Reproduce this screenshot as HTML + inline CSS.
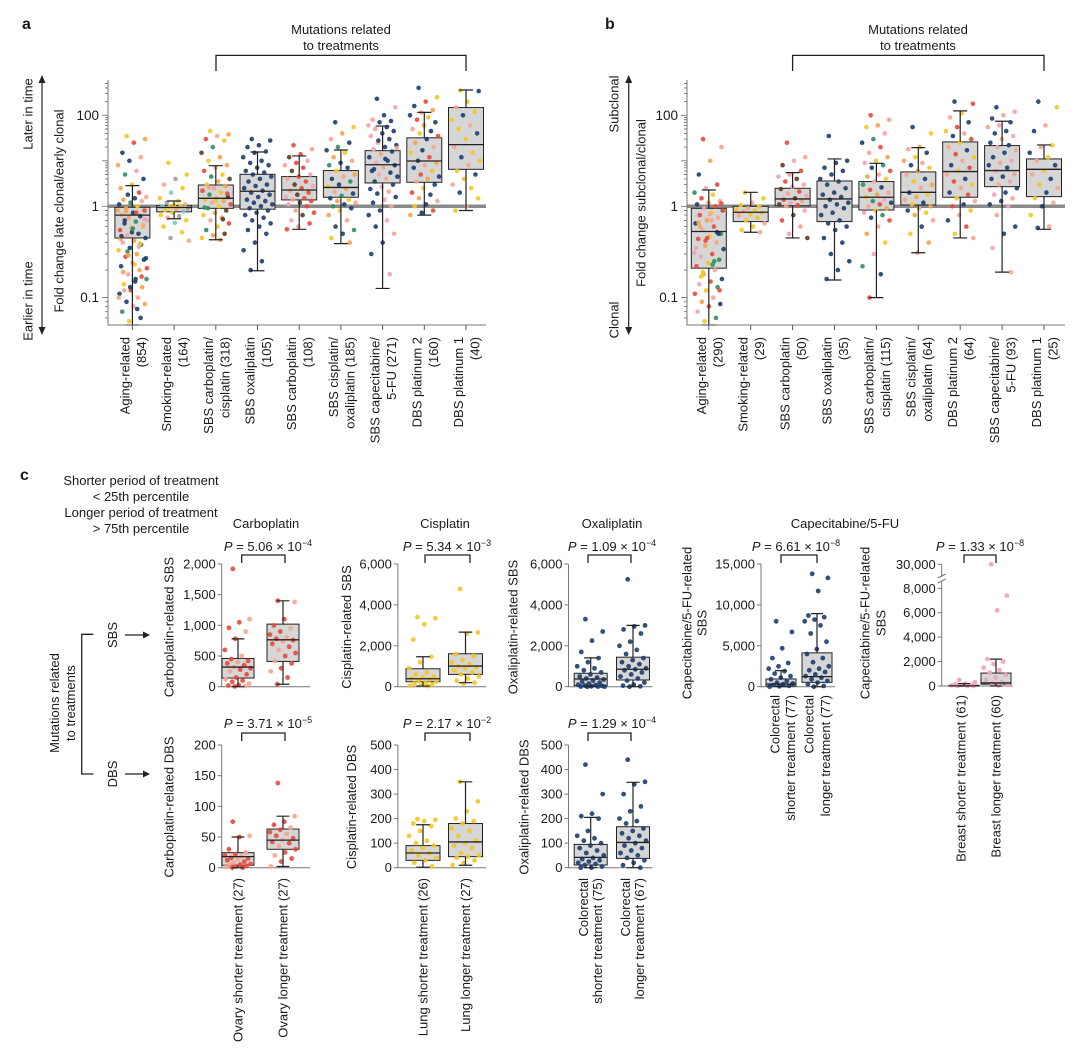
<!DOCTYPE html>
<html><head><meta charset="utf-8"><title>Clonality and treatment mutations</title>
<style>
html,body{margin:0;padding:0;background:#fff;}
svg{display:block;font-family:"Liberation Sans",Arial,sans-serif;}
text{fill:#1a1a1a;}
</style></head>
<body>
<svg id="fig" width="1080" height="1061" viewBox="0 0 1080 1061" xmlns="http://www.w3.org/2000/svg">
<rect x="0" y="0" width="1080" height="1061" fill="#fff"/>
<g font-size="13">
<text x="22" y="29" font-size="16" font-weight="bold">a</text>
<path d="M216,71 V55.4 H466 V71" fill="none" stroke="#222" stroke-width="1.3"/>
<text x="341" y="34" text-anchor="middle">Mutations related</text>
<text x="341" y="50" text-anchor="middle">to treatments</text>
<text transform="translate(32.5,114) rotate(-90)" text-anchor="middle">Later in time</text>
<text transform="translate(32.5,301) rotate(-90)" text-anchor="middle">Earlier in time</text>
<text transform="translate(63.5,211) rotate(-90)" text-anchor="middle">Fold change late clonal/early clonal</text>
<line x1="42" y1="82" x2="42" y2="328" stroke="#222" stroke-width="1.2"/>
<path d="M42,75 L38.5,83 L45.5,83 Z M42,335 L38.5,327 L45.5,327 Z" fill="#222"/>
</g>
<g font-size="13">
<text x="605" y="29" font-size="16" font-weight="bold">b</text>
<path d="M792.6,71 V55.4 H1044 V71" fill="none" stroke="#222" stroke-width="1.3"/>
<text x="918" y="34" text-anchor="middle">Mutations related</text>
<text x="918" y="50" text-anchor="middle">to treatments</text>
<text transform="translate(618.5,104) rotate(-90)" text-anchor="middle">Subclonal</text>
<text transform="translate(618.5,320) rotate(-90)" text-anchor="middle">Clonal</text>
<text transform="translate(645.5,203) rotate(-90)" text-anchor="middle">Fold change subclonal/clonal</text>
<line x1="628.7" y1="82" x2="628.7" y2="328" stroke="#222" stroke-width="1.2"/>
<path d="M628.7,75 L625.2,83 L632.2,83 Z M628.7,335 L625.2,327 L632.2,327 Z" fill="#222"/>
</g>
<g font-size="13">
<text x="20" y="480" font-size="16" font-weight="bold">c</text>
<text x="141" y="485" text-anchor="middle">Shorter period of treatment</text>
<text x="141" y="501" text-anchor="middle">&lt; 25th percentile</text>
<text x="141" y="517" text-anchor="middle">Longer period of treatment</text>
<text x="141" y="533" text-anchor="middle">&gt; 75th percentile</text>
<path d="M93.3,634.3 H81.7 V774 H93.3" fill="none" stroke="#222" stroke-width="1.3"/>
<text transform="translate(59,703) rotate(-90)" text-anchor="middle">Mutations related</text>
<text transform="translate(75,703) rotate(-90)" text-anchor="middle">to treatments</text>
<text transform="translate(117,635) rotate(-90)" text-anchor="middle">SBS</text>
<text transform="translate(117,774) rotate(-90)" text-anchor="middle">DBS</text>
<line x1="125" y1="635" x2="144" y2="635" stroke="#222" stroke-width="1.2"/>
<path d="M150,635 L143,631.5 L143,638.5 Z" fill="#222"/>
<line x1="125" y1="774" x2="144" y2="774" stroke="#222" stroke-width="1.2"/>
<path d="M150,774 L143,770.5 L143,777.5 Z" fill="#222"/>

<text x="266" y="528" text-anchor="middle">Carboplatin</text>
<text x="445" y="528" text-anchor="middle">Cisplatin</text>
<text x="612" y="528" text-anchor="middle">Oxaliplatin</text>
<text x="845" y="528" text-anchor="middle">Capecitabine/5-FU</text>

<text x="268" y="551" text-anchor="middle"><tspan font-style="italic">P</tspan> = 5.06 × 10<tspan dy="-5" font-size="9">−4</tspan></text>
<text x="447" y="551" text-anchor="middle"><tspan font-style="italic">P</tspan> = 5.34 × 10<tspan dy="-5" font-size="9">−3</tspan></text>
<text x="612" y="551" text-anchor="middle"><tspan font-style="italic">P</tspan> = 1.09 × 10<tspan dy="-5" font-size="9">−4</tspan></text>
<text x="796" y="551" text-anchor="middle"><tspan font-style="italic">P</tspan> = 6.61 × 10<tspan dy="-5" font-size="9">−8</tspan></text>
<text x="980" y="551" text-anchor="middle"><tspan font-style="italic">P</tspan> = 1.33 × 10<tspan dy="-5" font-size="9">−8</tspan></text>
<text x="268" y="728" text-anchor="middle"><tspan font-style="italic">P</tspan> = 3.71 × 10<tspan dy="-5" font-size="9">−5</tspan></text>
<text x="447" y="728" text-anchor="middle"><tspan font-style="italic">P</tspan> = 2.17 × 10<tspan dy="-5" font-size="9">−2</tspan></text>
<text x="612" y="728" text-anchor="middle"><tspan font-style="italic">P</tspan> = 1.29 × 10<tspan dy="-5" font-size="9">−4</tspan></text>

<text transform="translate(173.5,627) rotate(-90)" text-anchor="middle">Carboplatin-related SBS</text>
<text transform="translate(173.5,807) rotate(-90)" text-anchor="middle">Carboplatin-related DBS</text>
<text transform="translate(351,627) rotate(-90)" text-anchor="middle">Cisplatin-related SBS</text>
<text transform="translate(356,807) rotate(-90)" text-anchor="middle">Cisplatin-related DBS</text>
<text transform="translate(517.5,627) rotate(-90)" text-anchor="middle">Oxaliplatin-related SBS</text>
<text transform="translate(528.5,807) rotate(-90)" text-anchor="middle">Oxaliplatin-related DBS</text>
<text transform="translate(691.5,623) rotate(-90)" text-anchor="middle">Capecitabine/5-FU-related</text>
<text transform="translate(706.5,623) rotate(-90)" text-anchor="middle">SBS</text>
<text transform="translate(869.5,623) rotate(-90)" text-anchor="middle">Capecitabine/5-FU-related</text>
<text transform="translate(885.5,623) rotate(-90)" text-anchor="middle">SBS</text>

<text transform="translate(242.5,878) rotate(-90)" text-anchor="end">Ovary shorter treatment (27)</text>
<text transform="translate(287.5,878) rotate(-90)" text-anchor="end">Ovary longer treatment (27)</text>
<text transform="translate(427.5,878) rotate(-90)" text-anchor="end">Lung shorter treatment (26)</text>
<text transform="translate(470,878) rotate(-90)" text-anchor="end">Lung longer treatment (27)</text>
<text transform="translate(588,878) rotate(-90)" text-anchor="end">Colorectal</text>
<text transform="translate(602,878) rotate(-90)" text-anchor="end">shorter treatment (75)</text>
<text transform="translate(630,878) rotate(-90)" text-anchor="end">Colorectal</text>
<text transform="translate(644,878) rotate(-90)" text-anchor="end">longer treatment (67)</text>
<text transform="translate(779.5,695) rotate(-90)" text-anchor="end">Colorectal</text>
<text transform="translate(795,695) rotate(-90)" text-anchor="end">shorter treatment (77)</text>
<text transform="translate(813.5,695) rotate(-90)" text-anchor="end">Colorectal</text>
<text transform="translate(830,695) rotate(-90)" text-anchor="end">longer treatment (77)</text>
<text transform="translate(965.5,695) rotate(-90)" text-anchor="end">Breast shorter treatment (61)</text>
<text transform="translate(1000.5,695) rotate(-90)" text-anchor="end">Breast longer treatment (60)</text>
</g>
</svg>
<script>
const catsA = [["Aging-related","(854)"],["Smoking-related","(164)"],["SBS carboplatin/","cisplatin (318)"],["SBS oxaliplatin","(105)"],["SBS carboplatin","(108)"],["SBS cisplatin/","oxaliplatin (185)"],["SBS capecitabine/","5-FU (271)"],["DBS platinum 2","(160)"],["DBS platinum 1","(40)"]];
const aLo  = [0.05,0.73,0.43,0.197,0.56,0.39,0.126,0.80,0.90];
const aQ1  = [0.45,0.87,0.95,0.93,1.38,1.58,3.26,3.37,6.5];
const aMed = [0.80,0.97,1.5,2.14,2.28,2.6,8.2,9.9,22.7];
const aQ3  = [0.975,1.03,2.94,5.05,4.5,6.1,16.7,32,148];
const aHi  = [2.85,1.31,7.8,15.6,12.8,17.3,58,116,360];
const aPts = [
 [35,30,25,15,12,10,8,6,5,4,3,2.5,2,1.8,1.6,1.5,1.4,1.3,1.2,1.1,1,0.95,0.9,0.85,0.8,0.78,0.75,0.7,0.68,0.65,0.6,0.58,0.55,0.5,0.48,0.45,0.42,0.4,0.38,0.35,0.33,0.3,0.28,0.26,0.24,0.22,0.2,0.18,0.16,0.15,0.14,0.13,0.12,0.11,0.1,0.09,0.085,0.08,0.07,0.06,0.055,0.9,0.85,0.7,0.62,0.52,0.44,0.36,0.32,0.27,0.23,0.19,0.17,0.13,0.1,0.075,0.88,0.72,0.57,0.47,0.39,0.29,0.21,0.16,0.12],
 [9,5,4,3,2.5,2,1.5,1.3,1.2,1.1,1.05,1,1,0.98,0.95,0.93,0.9,0.88,0.85,0.8,0.78,0.75,0.7,0.66,0.6,0.52,0.45,0.42],
 [45,38,35,30,28,20,15,12,10,8,7,6,5,4.5,4,3.5,3,2.8,2.5,2.2,2,1.8,1.6,1.5,1.4,1.3,1.2,1.1,1,0.95,0.9,0.85,0.8,0.75,0.7,0.65,0.6,0.55,0.5,0.48,0.45,0.43,2.6,1.9,1.35,0.97,0.72],
 [30,28,22,20,16,15,12,10,9,8,7,6,5.5,5,4.5,4,3.5,3,2.8,2.5,2.2,2,1.8,1.6,1.4,1.3,1.2,1.1,1,0.95,0.9,0.85,0.8,0.75,0.7,0.65,0.6,0.55,0.5,0.4,0.33,0.25,0.2],
 [22,18,14,12,10,9,8,7,6,5,4.5,4,3.5,3,2.8,2.5,2.2,2,1.8,1.6,1.5,1.4,1.3,1.2,1.1,1,0.9,0.85,0.8,0.7,0.65,0.6,0.56],
 [70,55,40,30,25,20,17,15,12,10,9,8,7,6,5,4.5,4,3.5,3,2.7,2.4,2.1,1.9,1.7,1.5,1.4,1.3,1.2,1.1,1,0.95,0.9,0.8,0.7,0.6,0.55,0.5,0.45,0.4],
 [230,150,100,80,75,70,60,55,50,45,40,35,30,25,22,20,18,16,14,12,10,9,8,7,6,5.5,5,4.5,4,3.5,3,2.7,2.4,2.1,1.9,1.6,1.4,1.2,1,0.9,0.8,0.7,0.6,0.5,0.4,0.3,0.18,28,19,11,6.5],
 [400,250,200,160,130,115,100,90,80,70,60,50,45,40,35,30,25,20,17,15,12,10,9,8,7,6,5,4.5,4,3.5,3,2.5,2,1.8,1.5,1.3,1.1,1,0.9,0.85,0.8],
 [350,340,200,150,120,100,80,60,50,40,30,20,15,12,10,8,6,5,4,3,2.5,2,1.5,1,0.9]
];
const catsB = [["Aging-related","(290)"],["Smoking-related","(29)"],["SBS carboplatin","(50)"],["SBS oxaliplatin","(35)"],["SBS carboplatin/","cisplatin (115)"],["SBS cisplatin/","oxaliplatin (64)"],["DBS platinum 2","(64)"],["SBS capecitabine/","5-FU (93)"],["DBS platinum 1","(25)"]];
const bLo  = [0.05,0.52,0.45,0.156,0.10,0.31,0.45,0.19,0.56];
const bQ1  = [0.21,0.68,1.03,0.68,0.91,1.07,1.58,2.7,1.63];
const bMed = [0.53,0.86,1.45,1.45,1.58,2.03,5.8,6.1,6.5];
const bQ3  = [0.95,1.0,2.49,3.6,3.5,5.7,26,21.6,11];
const bHi  = [2.28,2.03,5.5,11,8.8,19.5,125,74,22.3];
const bPts = [
 [30,20,10,5,3,2.5,2,1.8,1.5,1.3,1.2,1.1,1,0.95,0.9,0.85,0.8,0.75,0.7,0.65,0.6,0.55,0.5,0.47,0.44,0.4,0.37,0.34,0.3,0.28,0.26,0.24,0.22,0.2,0.18,0.16,0.15,0.14,0.13,0.12,0.11,0.1,0.09,0.085,0.08,0.07,0.06,0.055,0.9,0.7,0.6,0.5,0.45,0.35,0.25,0.19,1.15,0.82,0.66,0.52,0.42,0.31,0.23,0.17,0.12],
 [2,1.5,1.2,1.05,1,0.95,0.92,0.9,0.88,0.85,0.82,0.8,0.75,0.7,0.65,0.6,0.55,0.52],
 [25,12,10,8,6,5,4.5,4,3.5,3,2.7,2.4,2.1,1.9,1.7,1.5,1.4,1.3,1.2,1.1,1.05,1,0.9,0.8,0.7,0.6,0.5,0.45],
 [35,10,9,7,6,5,4,3.5,3,2.5,2,1.8,1.6,1.4,1.2,1.1,1,0.95,0.85,0.8,0.7,0.65,0.6,0.55,0.45,0.4,0.3,0.25,0.2,0.16],
 [100,80,60,55,40,30,25,20,15,12,10,9,8,7,6,5,4.5,4,3.5,3,2.6,2.3,2,1.8,1.6,1.4,1.3,1.2,1.1,1,0.95,0.9,0.85,0.8,0.75,0.7,0.6,0.5,0.4,0.3,0.22,0.18,0.1],
 [55,40,20,18,15,12,10,9,8,7,6,5,4,3.5,3,2.5,2,1.8,1.6,1.4,1.2,1.1,1,0.95,0.9,0.85,0.8,0.7,0.6,0.5,0.4,0.31],
 [200,180,110,90,70,55,45,40,35,30,25,20,17,14,12,10,8,7,6,5,4,3.5,3,2.5,2,1.8,1.5,1.3,1.1,1,0.9,0.8,0.7,0.6,0.5,0.45],
 [150,120,100,85,70,60,55,45,40,35,30,25,22,20,17,15,12,10,9,8,7,6,5,4.5,4,3.5,3,2.5,2,1.8,1.5,1.3,1.1,1,0.8,0.6,0.5,0.35,0.19],
 [200,150,60,45,22,20,15,12,10,8,6,5,4,3,2.5,2,1.5,1.2,1,0.8,0.6,0.58]
];
const logTickValues = [100,1,0.1];
const logTickLabels = ["100","1","0.1"];
const cCarboSbsStats = [[0,141,320,460,780],[40,412,764,1020,1400]];
const cCarboSbsShort = [1920,1100,1050,960,900,780,600,500,450,420,400,380,350,320,300,280,250,200,150,120,100,80,50,30,20,10,5];
const cCarboSbsLong  = [1400,1380,1100,1000,950,900,850,800,780,760,740,700,650,600,550,500,420,380,300,250,150,40];
const cCisSbsStats = [[30,244,390,878,1463],[195,602,1008,1610,2667]];
const cCisSbsShort = [3400,3350,3050,2300,1460,1200,900,700,600,500,450,400,350,300,250,200,150,100,80,50,30];
const cCisSbsLong  = [4780,2650,2600,1600,1500,1300,1200,1100,1000,950,900,800,700,600,500,400,300,200,150];
const cCarboDbsStats = [[0,4,18,24.5,50],[2,30,45,63,84]];
const cCarboDbsShort = [75,52,50,30,25,22,20,18,16,15,14,12,10,8,6,5,4,3,2,1,0,0];
const cCarboDbsLong  = [138,84,75,70,65,62,58,55,52,48,45,42,40,35,30,25,20,15,10,2];
const cCisDbsStats = [[2,30,60,90,175],[10,45,105,180,350]];
const cCisDbsShort = [198,195,190,180,170,150,130,110,100,90,80,70,60,50,40,30,20,5];
const cCisDbsLong  = [350,270,230,200,190,180,160,150,130,110,100,90,80,60,50,45,40,30,20,10];
const cOxaliSbsStats = [[0,50,377,656,1410],[0,328,852,1443,3000]];
const cOxaliSbsShort = [3300,2700,2250,1700,1400,1200,1000,900,800,700,600,500,450,400,350,300,250,200,150,100,80,60,40,20,10,5,0,0];
const cOxaliSbsLong  = [5250,3000,2950,2800,2600,2200,2000,1800,1600,1400,1300,1200,1100,1000,900,850,800,700,600,500,400,300,200,100,50,20,0];
const cOxaliDbsStats = [[0,11,42,95,205],[0,38,103,167,348]];
const cOxaliDbsShort = [420,300,220,210,200,150,130,120,110,100,90,80,70,60,50,40,35,30,25,20,15,10,5,0,0];
const cOxaliDbsLong  = [440,350,340,300,250,230,200,190,180,160,150,140,130,120,110,100,90,80,70,60,50,40,30,20,10,0];
const cColoStats = [[0,82,330,943,1967],[0,533,1230,4140,8935]];
const cColoShort = [8000,6700,4700,3500,2900,2500,2200,1900,1600,1300,1100,900,700,500,400,300,200,100,50,0];
const cColoLong  = [13800,13300,11700,8700,8500,8200,8000,7500,6500,5500,4600,4000,3500,3000,2500,2200,2000,1800,1500,1300,1100,900,700,500,300,100,0];
const cBreastStats = [[0,0,10,60,200],[0,150,250,1060,2200]];
const cBreastShort = [500,300,200,150,100,80,50,20,10,0];
const cBreastLong  = [30000,7400,6200,2200,2000,1800,1500,1300,1100,900,700,500,300,200,100,50];
const tCarboSbs = [0,500,1000,1500,2000];  const lCarboSbs = ["0","500","1,000","1,500","2,000"];
const tCisSbs = [0,2000,4000,6000];        const lCisSbs = ["0","2,000","4,000","6,000"];
const tCarboDbs = [0,50,100,150,200];      const lCarboDbs = ["0","50","100","150","200"];
const tDbs500 = [0,100,200,300,400,500];   const lDbs500 = ["0","100","200","300","400","500"];
const tColo = [0,5000,10000,15000];        const lColo = ["0","5,000","10,000","15,000"];
const tBreast = [0,2000,4000,6000,8000,30000]; const lBreast = ["0","2,000","4,000","6,000","8,000","30,000"];

const NS = 'http://www.w3.org/2000/svg';
const svg = document.getElementById('fig');
function mk(tag, attrs, parent){ const e = document.createElementNS(NS, tag); for (const k in attrs) e.setAttribute(k, attrs[k]); (parent||svg).appendChild(e); return e; }
const C = {navy:'#1d3c6e',yellow:'#f3c623',orange:'#f4a24a',red:'#e8483b',salmon:'#f5a48f',pink:'#f2a3b8',green:'#2f8f5b',gray:'#a0a0a0',brown:'#5a3b22',teal:'#7fc9c0'};

function drawGroup(g, cx, w, st, pts, yf, pal, yb, r){
  const c = v => Math.min(yf(v), yb);
  const box = mk('rect',{x:cx-w/2,y:c(st[3]),width:w,height:Math.max(0.8,c(st[1])-c(st[3])),fill:'#d6d6d6',stroke:'#222','stroke-width':1},g);
  
  
  pts.forEach((v,i)=>{
    const jx = cx + (((i*0.6180339+0.31)%1)-0.5)*w*0.85;
    const d = mk('circle',{cx:jx.toFixed(1),cy:c(v).toFixed(1),r:r||2.3,fill:pal[i%pal.length],'fill-opacity':0.9},g);
    
    
  });
  const cw = w*0.4;
  const wh = mk('path',{d:`M${cx},${c(st[3])}V${c(st[4])}M${cx-cw/2},${c(st[4])}H${cx+cw/2}M${cx},${c(st[1])}V${c(st[0])}M${cx-cw/2},${c(st[0])}H${cx+cw/2}`,stroke:'#222','stroke-width':1.2,fill:'none'},g);
  
  
  const md = mk('line',{x1:cx-w/2,x2:cx+w/2,y1:c(st[2]),y2:c(st[2]),stroke:'#222','stroke-width':1.3},g);
  
  
}

function yLog(v){ const l = Math.log10(v); return l >= 0 ? 206.3 - l*45.5 : 206.3 - l*91.3; }
const palA = [[C.yellow,C.orange,C.red,C.navy,C.salmon,C.navy,C.orange,C.pink,C.green,C.navy],[C.yellow,C.yellow,C.gray,C.salmon,C.yellow,C.teal],[C.yellow,C.orange,C.salmon,C.red,C.yellow,C.green,C.brown,C.orange],[C.navy],[C.red,C.salmon,C.red,C.brown,C.pink],[C.navy,C.yellow,C.orange,C.salmon,C.navy,C.green],[C.navy,C.pink,C.navy,C.salmon,C.navy],[C.navy,C.yellow,C.red,C.navy,C.orange,C.salmon],[C.yellow,C.navy,C.yellow,C.salmon]];
const palB = [[C.red,C.salmon,C.orange,C.navy,C.red,C.pink,C.green,C.yellow],[C.yellow,C.yellow,C.salmon],[C.red,C.salmon,C.pink,C.brown],[C.navy],[C.red,C.salmon,C.orange,C.yellow,C.pink,C.green,C.navy],[C.navy,C.yellow,C.orange,C.salmon],[C.navy,C.red,C.yellow,C.salmon],[C.navy,C.pink,C.salmon,C.navy],[C.navy,C.yellow,C.salmon]];

function drawLogPanel(name, axX, rightX, x0, step, cats, lo, q1, med, q3, hi, pts, pal){
  const g = mk('g',{});
  
  
  const top = 80, bot = 325;
  const ref = mk('line',{x1:axX,x2:rightX,y1:yLog(1),y2:yLog(1),stroke:'#8a8a8a','stroke-width':3.5},g);
  
  
  cats.forEach((cl,i)=>{
    const cx = x0 + i*step;
    drawGroup(g, cx, 35, [lo[i],q1[i],med[i],q3[i],hi[i]], pts[i], yLog, pal[i], bot, 2.3);
    const tk = mk('line',{x1:cx,x2:cx,y1:bot,y2:bot+5,stroke:'#555','stroke-width':1},g);
    
    
    const t1 = mk('text',{transform:`translate(${cx-3},337) rotate(-90)`,'text-anchor':'end','font-size':13},g);
    t1.textContent = cl[0];
    
    
    const t2 = mk('text',{transform:`translate(${cx+13.5},337) rotate(-90)`,'text-anchor':'end','font-size':13},g);
    t2.textContent = cl[1];
    
    
  });
  const ax = mk('path',{d:`M${axX},${top}V${bot}H${rightX}`,fill:'none',stroke:'#777','stroke-width':1},g);
  
  
  let md = '';
  for (let e=-2; e<=2; e++) for (let m=1; m<10; m++){ const v = m*Math.pow(10,e); const y = yLog(v); if (y<top||y>bot) continue; const len = (m===1)?6:3; md += `M${axX-len},${y.toFixed(1)}H${axX}`; }
  const mt = mk('path',{d:md,stroke:'#777','stroke-width':0.9},g);
  
  
  logTickValues.forEach((v,i)=>{
    const t = mk('text',{x:axX-9,y:yLog(v)+4.5,'text-anchor':'end','font-size':13.5},g);
    t.textContent = logTickLabels[i];
    
    
  });
}
drawLogPanel('panel-a', 108, 486, 132.4, 41.7, catsA, aLo, aQ1, aMed, aQ3, aHi, aPts, palA);
drawLogPanel('panel-b', 687, 1065, 708.8, 41.9, catsB, bLo, bQ1, bMed, bQ3, bHi, bPts, palB);

function linY(y0, yTop, vmax){ return v => y0 - v/vmax*(y0-yTop); }
function breastY(v){ return v <= 8000 ? 686 - v*(686-588.3)/8000 : 580 - (v-8000)/22000*15.7; }
const cPanels = [
 {name:'carbo-sbs', ax:221.7, right:310, y0:686.7, yTop:564, yf:linY(686.7,564,2000), ticks:tCarboSbs, labels:lCarboSbs, cx:[238,283], w:32, stats:cCarboSbsStats, pts:[cCarboSbsShort,cCarboSbsLong], pal:[C.red,C.salmon,C.red], br:[241.7,285,555]},
 {name:'cis-sbs', ax:397.9, right:486, y0:686.7, yTop:564, yf:linY(686.7,564,6000), ticks:tCisSbs, labels:lCisSbs, cx:[423,465.5], w:34, stats:cCisSbsStats, pts:[cCisSbsShort,cCisSbsLong], pal:[C.yellow], br:[425,470,555]},
 {name:'oxali-sbs', ax:568.5, right:652.6, y0:686.7, yTop:564, yf:linY(686.7,564,6000), ticks:tCisSbs, labels:lCisSbs, cx:[590.7,633], w:33, stats:cOxaliSbsStats, pts:[cOxaliSbsShort,cOxaliSbsLong], pal:[C.navy], br:[588,631,555]},
 {name:'colorectal-cape', ax:761, right:835, y0:686.7, yTop:564, yf:linY(686.7,564,15000), ticks:tColo, labels:lColo, cx:[781,817], w:30, stats:cColoStats, pts:[cColoShort,cColoLong], pal:[C.navy], br:[781,817,555]},
 {name:'breast-cape', ax:941.7, right:1013, y0:686, yTop:564.3, yf:breastY, ticks:tBreast, labels:lBreast, cx:[964,996], w:30, stats:cBreastStats, pts:[cBreastShort,cBreastLong], pal:[C.pink], br:[964,996,555], brk:true},
 {name:'carbo-dbs', ax:221.7, right:310, y0:867.7, yTop:745, yf:linY(867.7,745,200), ticks:tCarboDbs, labels:lCarboDbs, cx:[238,283], w:32, stats:cCarboDbsStats, pts:[cCarboDbsShort,cCarboDbsLong], pal:[C.red,C.salmon,C.red], br:[241.7,285,733]},
 {name:'cis-dbs', ax:397.9, right:486, y0:867.7, yTop:745, yf:linY(867.7,745,500), ticks:tDbs500, labels:lDbs500, cx:[423,465.5], w:34, stats:cCisDbsStats, pts:[cCisDbsShort,cCisDbsLong], pal:[C.yellow], br:[425,470,733]},
 {name:'oxali-dbs', ax:568.5, right:652.6, y0:867.7, yTop:745, yf:linY(867.7,745,500), ticks:tDbs500, labels:lDbs500, cx:[590.7,633], w:33, stats:cOxaliDbsStats, pts:[cOxaliDbsShort,cOxaliDbsLong], pal:[C.navy], br:[588,631,733]}
];
cPanels.forEach(p=>{
  const g = mk('g',{});
  
  
  const ax = mk('path',{d:`M${p.ax},${p.yTop}V${p.y0}H${p.right}`,fill:'none',stroke:'#777','stroke-width':1},g);
  
  
  p.ticks.forEach((v,i)=>{
    const y = p.yf(v);
    const tk = mk('line',{x1:p.ax-4,x2:p.ax,y1:y,y2:y,stroke:'#777','stroke-width':1},g);
    
    
    const t = mk('text',{x:p.ax-6,y:y+4.5,'text-anchor':'end','font-size':13},g);
    t.textContent = p.labels[i];
    
    
  });
  if (p.brk){
    const b = mk('rect',{x:p.ax-3,y:577,width:6,height:5,fill:'#fff'},g);
    
    
    const bl = mk('path',{d:`M${p.ax-4},${578}l8,-4M${p.ax-4},${583}l8,-4`,stroke:'#777','stroke-width':1},g);
    
    
  }
  p.stats.forEach((st,k)=>{
    drawGroup(g, p.cx[k], p.w, st, p.pts[k], p.yf, p.pal, p.y0, 2.4);
  });
  const bx = p.br;
  const brk = mk('path',{d:`M${bx[0]},${bx[2]+8}V${bx[2]}H${bx[1]}V${bx[2]+8}`,fill:'none',stroke:'#222','stroke-width':1.3},g);
  
  
});
</script>
</body></html>
